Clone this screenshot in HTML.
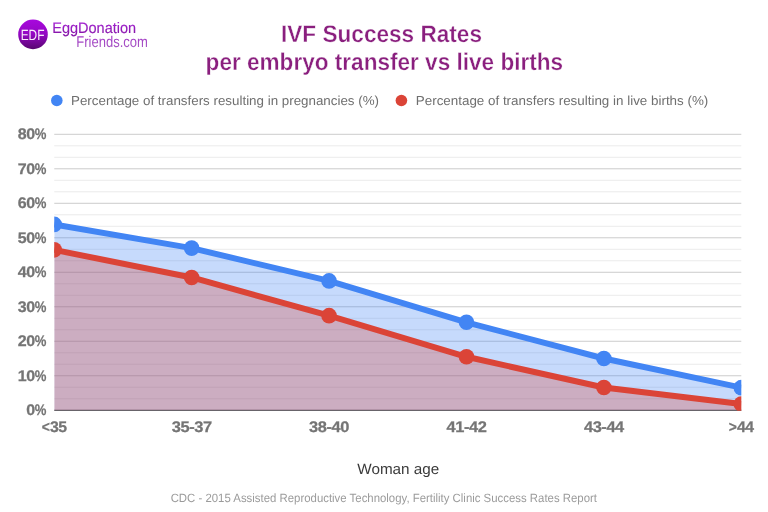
<!DOCTYPE html>
<html lang="en"><head><meta charset="utf-8"><title>IVF Success Rates per embryo transfer vs live births</title>
<style>
html,body{margin:0;padding:0;background:#fff;}
body{width:768px;height:512px;overflow:hidden;font-family:"Liberation Sans",sans-serif;}
svg{display:block;}
text{font-family:"Liberation Sans",sans-serif;text-rendering:geometricPrecision;}
.ttl{font-weight:bold;font-size:24px;fill:#8a1f7e;stroke:#fff;stroke-width:0.35px;}
.ax{font-weight:bold;font-size:15.3px;fill:#757575;stroke:#757575;stroke-width:0.25px;letter-spacing:-0.4px;}
.lg{font-size:13px;fill:#6f6f6f;}
</style></head><body>
<svg width="768" height="512" viewBox="0 0 768 512">
<defs>
<linearGradient id="lg1" x1="0" y1="0" x2="0" y2="1"><stop offset="0" stop-color="#a808de"/><stop offset="0.5" stop-color="#9307c2"/><stop offset="1" stop-color="#57066f"/></linearGradient>
<linearGradient id="tg1" gradientUnits="userSpaceOnUse" x1="0" y1="22" x2="0" y2="37"><stop offset="0" stop-color="#a622d6"/><stop offset="1" stop-color="#7c1499"/></linearGradient>
<linearGradient id="tg2" gradientUnits="userSpaceOnUse" x1="0" y1="36" x2="0" y2="48"><stop offset="0" stop-color="#a236c6"/><stop offset="1" stop-color="#a85cc4"/></linearGradient>
<clipPath id="cp"><rect x="54.25" y="120" width="687.05" height="290.75"/></clipPath>
</defs>
<rect width="768" height="512" fill="#fff"/>

<circle cx="33" cy="34.4" r="14.8" fill="url(#lg1)"/>
<text x="32.6" y="39.8" text-anchor="middle" font-size="14.8" fill="#f8eafb" textLength="23.8" lengthAdjust="spacingAndGlyphs">EDF</text>
<text x="52.2" y="32.8" font-size="15.2" fill="url(#tg1)" stroke="#9a1cc4" stroke-width="0.15" textLength="84" lengthAdjust="spacingAndGlyphs">EggDonation</text>
<text x="76.3" y="46.8" font-size="15.5" fill="url(#tg2)" textLength="71.6" lengthAdjust="spacingAndGlyphs">Friends.com</text>
<text class="ttl" x="281" y="42.3" textLength="201" lengthAdjust="spacingAndGlyphs">IVF Success Rates</text>
<text class="ttl" x="205.6" y="69.8" textLength="357.5" lengthAdjust="spacingAndGlyphs">per embryo transfer vs live births</text>
<circle cx="56.8" cy="100.5" r="5.8" fill="#4285f4"/>
<text class="lg" x="71" y="104.6" textLength="308" lengthAdjust="spacingAndGlyphs">Percentage of transfers resulting in pregnancies (%)</text>
<circle cx="401.4" cy="100.5" r="5.8" fill="#db4437"/>
<text class="lg" x="415.8" y="104.6" textLength="292.5" lengthAdjust="spacingAndGlyphs">Percentage of transfers resulting in live births (%)</text>
<rect x="54.25" y="398.25" width="687.05" height="1" fill="#ebebeb"/>
<rect x="54.25" y="386.75" width="687.05" height="1" fill="#ebebeb"/>
<rect x="54.25" y="375.26" width="687.05" height="1" fill="#ccc"/>
<rect x="54.25" y="363.76" width="687.05" height="1" fill="#ebebeb"/>
<rect x="54.25" y="352.26" width="687.05" height="1" fill="#ebebeb"/>
<rect x="54.25" y="340.76" width="687.05" height="1" fill="#ccc"/>
<rect x="54.25" y="329.26" width="687.05" height="1" fill="#ebebeb"/>
<rect x="54.25" y="317.77" width="687.05" height="1" fill="#ebebeb"/>
<rect x="54.25" y="306.27" width="687.05" height="1" fill="#ccc"/>
<rect x="54.25" y="294.77" width="687.05" height="1" fill="#ebebeb"/>
<rect x="54.25" y="283.27" width="687.05" height="1" fill="#ebebeb"/>
<rect x="54.25" y="271.77" width="687.05" height="1" fill="#ccc"/>
<rect x="54.25" y="260.28" width="687.05" height="1" fill="#ebebeb"/>
<rect x="54.25" y="248.78" width="687.05" height="1" fill="#ebebeb"/>
<rect x="54.25" y="237.28" width="687.05" height="1" fill="#ccc"/>
<rect x="54.25" y="225.78" width="687.05" height="1" fill="#ebebeb"/>
<rect x="54.25" y="214.29" width="687.05" height="1" fill="#ebebeb"/>
<rect x="54.25" y="202.79" width="687.05" height="1" fill="#ccc"/>
<rect x="54.25" y="191.29" width="687.05" height="1" fill="#ebebeb"/>
<rect x="54.25" y="179.79" width="687.05" height="1" fill="#ebebeb"/>
<rect x="54.25" y="168.29" width="687.05" height="1" fill="#ccc"/>
<rect x="54.25" y="156.80" width="687.05" height="1" fill="#ebebeb"/>
<rect x="54.25" y="145.30" width="687.05" height="1" fill="#ebebeb"/>
<rect x="54.25" y="133.80" width="687.05" height="1" fill="#ccc"/>
<text class="ax" x="46.0" y="415.35" text-anchor="end"><tspan textLength="8.5" lengthAdjust="spacingAndGlyphs">0</tspan><tspan textLength="11.3" lengthAdjust="spacingAndGlyphs">%</tspan></text>
<text class="ax" x="46.0" y="380.86" text-anchor="end"><tspan textLength="17.0" lengthAdjust="spacingAndGlyphs">10</tspan><tspan textLength="11.3" lengthAdjust="spacingAndGlyphs">%</tspan></text>
<text class="ax" x="46.0" y="346.36" text-anchor="end"><tspan textLength="17.0" lengthAdjust="spacingAndGlyphs">20</tspan><tspan textLength="11.3" lengthAdjust="spacingAndGlyphs">%</tspan></text>
<text class="ax" x="46.0" y="311.87" text-anchor="end"><tspan textLength="17.0" lengthAdjust="spacingAndGlyphs">30</tspan><tspan textLength="11.3" lengthAdjust="spacingAndGlyphs">%</tspan></text>
<text class="ax" x="46.0" y="277.38" text-anchor="end"><tspan textLength="17.0" lengthAdjust="spacingAndGlyphs">40</tspan><tspan textLength="11.3" lengthAdjust="spacingAndGlyphs">%</tspan></text>
<text class="ax" x="46.0" y="242.88" text-anchor="end"><tspan textLength="17.0" lengthAdjust="spacingAndGlyphs">50</tspan><tspan textLength="11.3" lengthAdjust="spacingAndGlyphs">%</tspan></text>
<text class="ax" x="46.0" y="208.39" text-anchor="end"><tspan textLength="17.0" lengthAdjust="spacingAndGlyphs">60</tspan><tspan textLength="11.3" lengthAdjust="spacingAndGlyphs">%</tspan></text>
<text class="ax" x="46.0" y="173.89" text-anchor="end"><tspan textLength="17.0" lengthAdjust="spacingAndGlyphs">70</tspan><tspan textLength="11.3" lengthAdjust="spacingAndGlyphs">%</tspan></text>
<text class="ax" x="46.0" y="139.40" text-anchor="end"><tspan textLength="17.0" lengthAdjust="spacingAndGlyphs">80</tspan><tspan textLength="11.3" lengthAdjust="spacingAndGlyphs">%</tspan></text>
<rect x="54.25" y="409.75" width="687.05" height="1" fill="#333"/>
<g clip-path="url(#cp)">
<polygon points="54.25,410.25 54.25,224.40 191.66,248.13 329.07,280.90 466.48,322.29 603.89,358.51 741.30,387.66 741.30,410.25" fill="#4285f4" fill-opacity="0.3"/>
<polygon points="54.25,410.25 54.25,249.85 191.66,277.45 329.07,315.67 466.48,356.78 603.89,387.48 741.30,404.04 741.30,410.25" fill="#db4437" fill-opacity="0.3"/>
<polyline points="54.25,224.40 191.66,248.13 329.07,280.90 466.48,322.29 603.89,358.51 741.30,387.66" fill="none" stroke="#4285f4" stroke-width="6" stroke-linejoin="round"/><circle cx="54.25" cy="224.40" r="7.8" fill="#4285f4"/><circle cx="191.66" cy="248.13" r="7.8" fill="#4285f4"/><circle cx="329.07" cy="280.90" r="7.8" fill="#4285f4"/><circle cx="466.48" cy="322.29" r="7.8" fill="#4285f4"/><circle cx="603.89" cy="358.51" r="7.8" fill="#4285f4"/><circle cx="741.30" cy="387.66" r="7.8" fill="#4285f4"/>
<polyline points="54.25,249.85 191.66,277.45 329.07,315.67 466.48,356.78 603.89,387.48 741.30,404.04" fill="none" stroke="#db4437" stroke-width="6" stroke-linejoin="round"/><circle cx="54.25" cy="249.85" r="7.8" fill="#db4437"/><circle cx="191.66" cy="277.45" r="7.8" fill="#db4437"/><circle cx="329.07" cy="315.67" r="7.8" fill="#db4437"/><circle cx="466.48" cy="356.78" r="7.8" fill="#db4437"/><circle cx="603.89" cy="387.48" r="7.8" fill="#db4437"/><circle cx="741.30" cy="404.04" r="7.8" fill="#db4437"/>
</g>
<text class="ax" x="54.25" y="432.4" text-anchor="middle"><tspan style="letter-spacing:0" textLength="8.1" lengthAdjust="spacingAndGlyphs">&lt;</tspan><tspan textLength="16.8" lengthAdjust="spacingAndGlyphs">35</tspan></text>
<text class="ax" x="191.66" y="432.4" text-anchor="middle"><tspan textLength="39.9" lengthAdjust="spacingAndGlyphs">35-37</tspan></text>
<text class="ax" x="329.07" y="432.4" text-anchor="middle"><tspan textLength="39.9" lengthAdjust="spacingAndGlyphs">38-40</tspan></text>
<text class="ax" x="466.48" y="432.4" text-anchor="middle"><tspan textLength="39.9" lengthAdjust="spacingAndGlyphs">41-42</tspan></text>
<text class="ax" x="603.89" y="432.4" text-anchor="middle"><tspan textLength="39.9" lengthAdjust="spacingAndGlyphs">43-44</tspan></text>
<text class="ax" x="741.30" y="432.4" text-anchor="middle"><tspan style="letter-spacing:0" textLength="8.1" lengthAdjust="spacingAndGlyphs">&gt;</tspan><tspan textLength="16.8" lengthAdjust="spacingAndGlyphs">44</tspan></text>
<text x="398.3" y="474" text-anchor="middle" font-size="15" fill="#3a3a3a" textLength="82" lengthAdjust="spacingAndGlyphs">Woman age</text>
<text x="383.8" y="502" text-anchor="middle" font-size="12" fill="#9b9b9b" textLength="426.3" lengthAdjust="spacingAndGlyphs">CDC - 2015 Assisted Reproductive Technology, Fertility Clinic Success Rates Report</text>
</svg></body></html>
